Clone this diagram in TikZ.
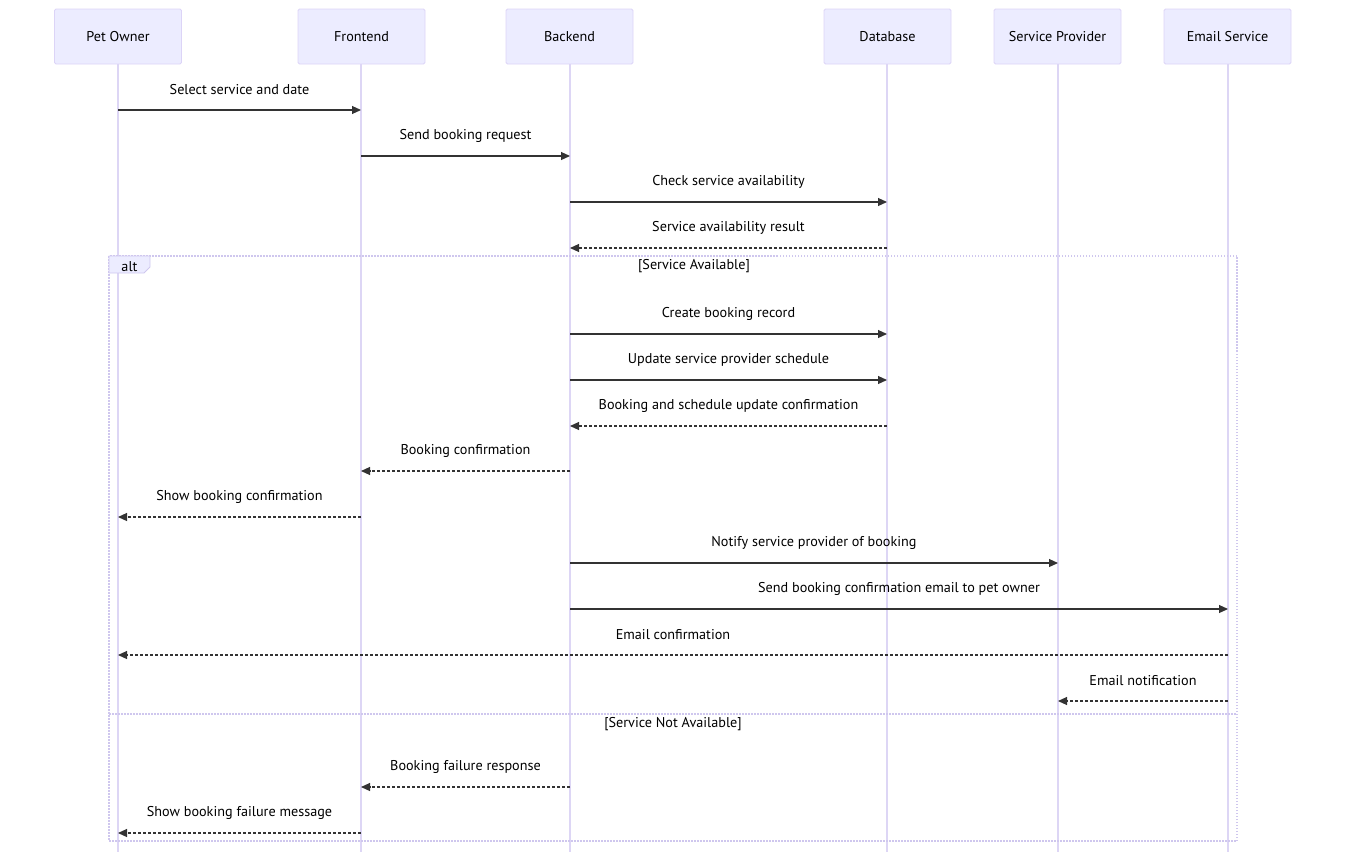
\documentclass[tikz,border=0pt]{standalone}
\usepackage{fontspec}
\setmainfont{PT Sans}
\usetikzlibrary{arrows.meta}
\definecolor{actfill}{HTML}{ECECFF}
\definecolor{actline}{HTML}{DCD4F7}
\definecolor{lifeline}{HTML}{DDD6F5}
\definecolor{msgcol}{HTML}{333333}
\definecolor{altline}{HTML}{CFC7EE}
\tikzset{
  actor/.style={draw=actline, fill=actfill, rounded corners=1.5pt, minimum width=127pt, minimum height=55pt, line width=0.9pt, font=\fontsize{14.2}{17}\selectfont, text=black},
  lifel/.style={draw=lifeline, line width=1.2pt},
  msgsolid/.style={draw=msgcol, line width=1.1pt, -{Triangle[length=9pt,width=8pt]}},
  msgdash/.style={draw=msgcol, line width=1.1pt, dash pattern=on 3pt off 2pt, -{Triangle[length=9pt,width=8pt]}},
  lbl/.style={font=\fontsize{14.2}{17}\selectfont, text=black, inner sep=0pt},
  altbox/.style={draw=altline, line width=1.1pt, dash pattern=on 1.5pt off 1.5pt},
}
\newcommand{\mymsg}[6]{%
  \coordinate (#1s) at (#2,#4);
  \coordinate (#1e) at (#3,#4);
  \draw[#6] (#1s) -- (#1e);
  \node[lbl] (#1l) at ({(#2+#3)/2},#4-20) {#5};
}
\begin{document}
\begin{tikzpicture}[x=1pt,y=-1pt]
\useasboundingbox (0,0) rectangle (1355,852);
% lifelines
\foreach \n/\x in {a/118,b/361,c/570,d/887,e/1058,f/1228}{
  \coordinate (\n top) at (\x,64);
  \coordinate (\n bot) at (\x,852);
  \draw[lifel] (\n top) -- (\n bot);
}
% actors
\node[actor] (po) at (118,36.5) {Pet Owner};
\node[actor] (fe) at (361.5,36.5) {Frontend};
\node[actor] (be) at (569.5,36.5) {Backend};
\node[actor] (db) at (887.5,36.5) {Database};
\node[actor] (sp) at (1057.5,36.5) {Service Provider};
\node[actor] (es) at (1227.5,36.5) {Email Service};
% alt frame
\coordinate (altnw) at (109,256);
\coordinate (altse) at (1237,841);
\draw[altbox] (altnw) rectangle (altse);
\coordinate (divw) at (109,714);
\coordinate (dive) at (1237,714);
\draw[altbox] (divw) -- (dive);
\draw[draw=altline, fill=actfill, line width=0.9pt] (109,256) -- (150,256) -- (150,267) -- (144,273) -- (109,273) -- cycle;
\node[lbl] (altlbl) at (129.5,266.5) {alt};
\node[lbl] (cond1) at (694,266.5) {[Service Available]};
\node[lbl] (cond2) at (673,724.5) {[Service Not Available]};
% messages
\mymsg{m1}{118}{361}{110}{Select service and date}{msgsolid}
\mymsg{m2}{361}{570}{156}{Send booking request}{msgsolid}
\mymsg{m3}{570}{887}{202}{Check service availability}{msgsolid}
\mymsg{m4}{887}{570}{248}{Service availability result}{msgdash}
\mymsg{m5}{570}{887}{334}{Create booking record}{msgsolid}
\mymsg{m6}{570}{887}{380}{Update service provider schedule}{msgsolid}
\mymsg{m7}{887}{570}{426}{Booking and schedule update confirmation}{msgdash}
\mymsg{m8}{570}{361}{471}{Booking confirmation}{msgdash}
\mymsg{m9}{361}{118}{517}{Show booking confirmation}{msgdash}
\mymsg{m10}{570}{1058}{563}{Notify service provider of booking}{msgsolid}
\mymsg{m11}{570}{1228}{609}{Send booking confirmation email to pet owner}{msgsolid}
\mymsg{m12}{1228}{118}{655}{Email confirmation}{msgdash}
\mymsg{m13}{1228}{1058}{701}{Email notification}{msgdash}
\mymsg{m14}{570}{361}{787}{Booking failure response}{msgdash}
\mymsg{m15}{361}{118}{833}{Show booking failure message}{msgdash}
\end{tikzpicture}
\end{document}
